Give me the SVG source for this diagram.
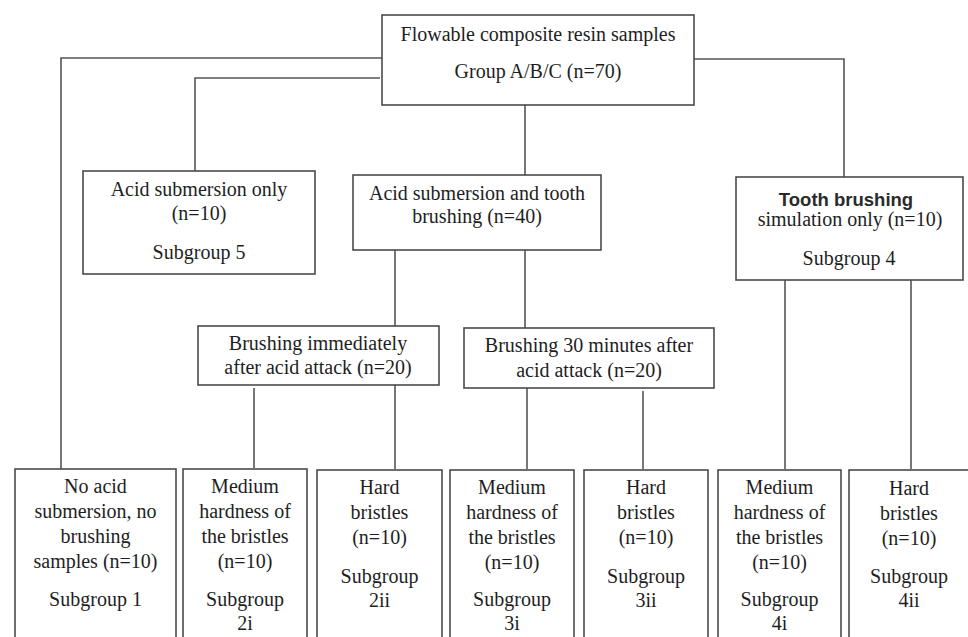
<svg xmlns="http://www.w3.org/2000/svg" width="968" height="637" viewBox="0 0 968 637">
<style>
.box{fill:#fff;stroke:#4a4a4a;stroke-width:1.6}
.ln{fill:none;stroke:#555;stroke-width:1.6}
.t{font-family:'Liberation Serif','DejaVu Serif',serif;font-size:20px;fill:#1e1e1e;text-anchor:middle}
.sans{font-family:'Liberation Sans',Arial,sans-serif;font-size:18.5px;font-weight:bold;fill:#2a2a2a;text-anchor:middle}
</style>
<rect width="968" height="637" fill="#fff"/>
<g id="connectors">
<polyline class="ln" points="382,58 61,58 61,469"/>
<polyline class="ln" points="380,78 195,78 195,171"/>
<polyline class="ln" points="694,59 844,59 844,177"/>
<line class="ln" x1="525" y1="105" x2="525" y2="175"/>
<line class="ln" x1="395" y1="250" x2="395" y2="326"/>
<line class="ln" x1="525" y1="250" x2="525" y2="328"/>
<line class="ln" x1="254" y1="388" x2="254" y2="468"/>
<line class="ln" x1="395" y1="385" x2="395" y2="469"/>
<line class="ln" x1="527" y1="388" x2="527" y2="469"/>
<line class="ln" x1="643" y1="391" x2="643" y2="469"/>
<line class="ln" x1="785" y1="280" x2="785" y2="469"/>
<line class="ln" x1="911" y1="280" x2="911" y2="469"/>
</g>
<g id="root" class="t">
<rect class="box" x="382" y="15" width="312" height="90"/>
<text x="538" y="41">Flowable composite resin samples</text>
<text x="538" y="78">Group A/B/C (n=70)</text>
</g>
<g id="acid-only" class="t">
<rect class="box" x="83" y="171" width="232" height="103"/>
<text x="199" y="196">Acid submersion only</text>
<text x="199" y="220">(n=10)</text>
<text x="199" y="259">Subgroup 5</text>
</g>
<g id="acid-brush" class="t">
<rect class="box" x="353" y="175" width="248" height="75"/>
<text x="477" y="200">Acid submersion and tooth</text>
<text x="477" y="223">brushing (n=40)</text>
</g>
<g id="brush-only" class="t">
<rect class="box" x="736" y="177" width="227" height="103"/>
<text class="sans" x="846" y="206">Tooth brushing</text>
<text x="850" y="226">simulation only (n=10)</text>
<text x="849" y="265">Subgroup 4</text>
</g>
<g id="brush-immediate" class="t">
<rect class="box" x="198" y="326" width="241" height="59"/>
<text x="318" y="350">Brushing immediately</text>
<text x="318" y="374">after acid attack (n=20)</text>
</g>
<g id="brush-30" class="t">
<rect class="box" x="464" y="328" width="250" height="60"/>
<text x="589" y="352">Brushing 30 minutes after</text>
<text x="589" y="377">acid attack (n=20)</text>
</g>
<g id="sub1" class="t">
<rect class="box" x="15" y="469" width="161" height="180"/>
<text x="95.5" y="493">No acid</text>
<text x="95.5" y="518">submersion, no</text>
<text x="95.5" y="543">brushing</text>
<text x="95.5" y="568">samples (n=10)</text>
<text x="95.5" y="606">Subgroup 1</text>
</g>
<g id="sub2i" class="t">
<rect class="box" x="183" y="469" width="124" height="180"/>
<text x="245" y="493">Medium</text>
<text x="245" y="518">hardness of</text>
<text x="245" y="543">the bristles</text>
<text x="245" y="568">(n=10)</text>
<text x="245" y="606">Subgroup</text>
<text x="245" y="630">2i</text>
</g>
<g id="sub2ii" class="t">
<rect class="box" x="317" y="470" width="125" height="180"/>
<text x="379.5" y="494">Hard</text>
<text x="379.5" y="519">bristles</text>
<text x="379.5" y="544">(n=10)</text>
<text x="379.5" y="583">Subgroup</text>
<text x="379.5" y="607">2ii</text>
</g>
<g id="sub3i" class="t">
<rect class="box" x="450" y="470" width="124" height="180"/>
<text x="512" y="494">Medium</text>
<text x="512" y="519">hardness of</text>
<text x="512" y="544">the bristles</text>
<text x="512" y="569">(n=10)</text>
<text x="512" y="606">Subgroup</text>
<text x="512" y="630">3i</text>
</g>
<g id="sub3ii" class="t">
<rect class="box" x="584" y="470" width="124" height="180"/>
<text x="646" y="494">Hard</text>
<text x="646" y="519">bristles</text>
<text x="646" y="544">(n=10)</text>
<text x="646" y="583">Subgroup</text>
<text x="646" y="607">3ii</text>
</g>
<g id="sub4i" class="t">
<rect class="box" x="718" y="470" width="123" height="180"/>
<text x="779.5" y="494">Medium</text>
<text x="779.5" y="519">hardness of</text>
<text x="779.5" y="544">the bristles</text>
<text x="779.5" y="569">(n=10)</text>
<text x="779.5" y="606">Subgroup</text>
<text x="779.5" y="630">4i</text>
</g>
<g id="sub4ii" class="t">
<rect class="box" x="849" y="470" width="130" height="180"/>
<text x="909" y="495">Hard</text>
<text x="909" y="520">bristles</text>
<text x="909" y="545">(n=10)</text>
<text x="909" y="583">Subgroup</text>
<text x="909" y="607">4ii</text>
</g>
</svg>
